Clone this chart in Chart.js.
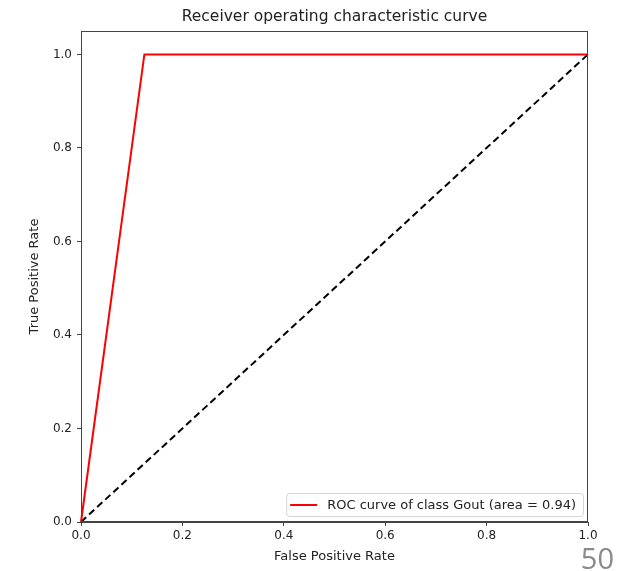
<!DOCTYPE html>
<html>
<head>
<meta charset="utf-8">
<script src="https://cdn.jsdelivr.net/npm/chart.js@4.4.0/dist/chart.umd.min.js"></script>
<style>
  html, body { margin: 0; padding: 0; background: #fff; }
  #wrap { position: relative; width: 628px; height: 571px; }
  #pageNo {
    position: absolute; right: 14px; bottom: -6px;
    font-family: 'Open Sans', sans-serif; font-size: 29px; color: #8a8a8a;
  }
</style>
</head>
<body>
<div id="wrap">
  <canvas id="roc" width="628" height="571"></canvas>
  <div id="pageNo">50</div>
</div>
<script>
// ROC curve points for class Gout
var fpr = [0.0, 0.125, 1.0];
var tpr = [0.0, 1.0, 1.0];
// chance diagonal
var chanceX = [0.0, 1.0];
var chanceY = [0.0, 1.0];
var tickValues = [0.0, 0.2, 0.4, 0.6, 0.8, 1.0];
var rocLabel = 'ROC curve of class Gout (area = 0.94)';
var titleText = 'Receiver operating characteristic curve';

function toPoints(xs, ys) {
  return xs.map(function (x, i) { return { x: x, y: ys[i] }; });
}

var FONT = "'DejaVu Sans', sans-serif";

// axes frame, title over the plot area and a legend box in the lower right
var framePlugin = {
  id: 'frame',
  afterDraw: function (chart) {
    var ctx = chart.ctx, a = chart.chartArea;
    ctx.save();
    ctx.strokeStyle = '#444';
    ctx.lineWidth = 1;
    ctx.strokeRect(a.left + 0.5, a.top + 0.5, a.right - a.left - 1, a.bottom - a.top - 1);

    ctx.fillStyle = '#222';
    ctx.font = '15.5px ' + FONT;
    ctx.textAlign = 'center';
    ctx.textBaseline = 'middle';
    ctx.fillText(titleText, (a.left + a.right) / 2, 17);

    // legend
    var ds = chart.data.datasets[0];
    ctx.textAlign = 'left';
    ctx.font = '13px ' + FONT;
    var tw = ctx.measureText(ds.label).width;
    var bw = tw + 48, bh = 23;
    var bx = a.right - 5 - bw, by = a.bottom - 6 - bh;
    ctx.fillStyle = 'rgba(255,255,255,0.85)';
    ctx.strokeStyle = '#d4d4d4';
    ctx.beginPath();
    if (ctx.roundRect) ctx.roundRect(bx + 0.5, by + 0.5, bw, bh, 3); else ctx.rect(bx + 0.5, by + 0.5, bw, bh);
    ctx.fill();
    ctx.stroke();
    ctx.strokeStyle = ds.borderColor;
    ctx.lineWidth = 2;
    ctx.beginPath();
    ctx.moveTo(bx + 4, by + bh / 2 + 0.5);
    ctx.lineTo(bx + 31, by + bh / 2 + 0.5);
    ctx.stroke();
    ctx.fillStyle = '#222';
    ctx.fillText(ds.label, bx + 41, by + bh / 2 + 1);
    ctx.restore();
  }
};

new Chart(document.getElementById('roc'), {
  type: 'scatter',
  data: {
    datasets: [
      {
        label: rocLabel,
        data: toPoints(fpr, tpr),
        showLine: true,
        borderColor: '#ff0000',
        backgroundColor: '#ff0000',
        borderWidth: 2,
        pointRadius: 0,
        tension: 0
      },
      {
        label: 'chance',
        data: toPoints(chanceX, chanceY),
        showLine: true,
        borderColor: '#000',
        borderWidth: 2,
        borderDash: [7, 4],
        pointRadius: 0
      }
    ]
  },
  options: {
    responsive: false,
    animation: false,
    clip: false,
    layout: { padding: { left: 0, right: 40, top: 31, bottom: 0 } },
    plugins: {
      legend: { display: false },
      tooltip: { enabled: false },
      title: { display: false }
    },
    scales: {
      x: {
        type: 'linear', min: 0, max: 1,
        afterBuildTicks: function (s) { s.ticks = tickValues.map(function (v) { return { value: v }; }); },
        afterFit: function (s) { s.height = 49; },
        ticks: {
          color: '#222', padding: 3, maxRotation: 0,
          font: { family: FONT, size: 12 },
          callback: function (v) { return Number(v).toFixed(1); }
        },
        grid: { drawOnChartArea: false, tickLength: 4, color: '#444' },
        border: { color: '#444' },
        title: {
          display: true, text: 'False Positive Rate', color: '#222',
          font: { family: FONT, size: 13 }, padding: { top: 0, bottom: 7 }
        }
      },
      y: {
        type: 'linear', min: 0, max: 1.05,
        afterBuildTicks: function (s) { s.ticks = tickValues.map(function (v) { return { value: v }; }); },
        afterFit: function (s) { s.width = 81; },
        ticks: {
          color: '#222', padding: 5,
          font: { family: FONT, size: 12 },
          callback: function (v) { return Number(v).toFixed(1); }
        },
        grid: { drawOnChartArea: false, tickLength: 4, color: '#444' },
        border: { color: '#444' },
        title: {
          display: true, text: 'True Positive Rate', color: '#222',
          font: { family: FONT, size: 13 }, padding: { top: 27, bottom: 0 }
        }
      }
    }
  },
  plugins: [framePlugin]
});
</script>
</body>
</html>
